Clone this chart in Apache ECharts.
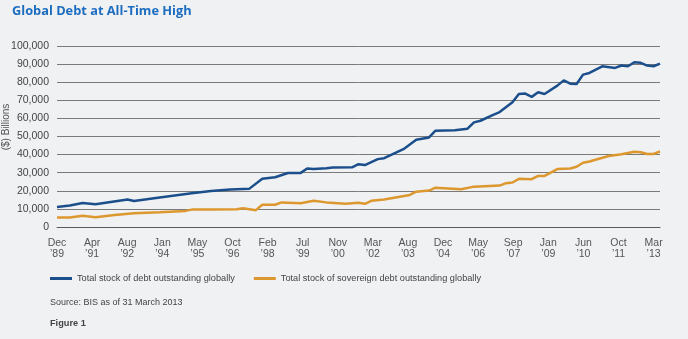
<!DOCTYPE html>
<html>
<head>
<meta charset="utf-8">
<script src="https://cdn.jsdelivr.net/npm/echarts@6/dist/echarts.min.js"></script>
<style>
  html, body { margin: 0; padding: 0; background: #f0f1f3; }
  #chart { width: 688px; height: 339px; }
</style>
</head>
<body>
<div id="chart"></div>
<script>
// Global debt outstanding, $ billions, quarterly readings (BIS)
const debtDates = ['1989-12','1990-06','1990-12','1991-06','1992-09','1992-12','1993-12','1995-03','1995-12',
  '1996-09','1997-06','1997-12','1998-06','1998-12','1999-06','1999-09','1999-12','2000-06','2000-09',
  '2001-06','2001-09','2001-12','2002-06','2002-09','2003-06','2003-12','2004-06','2004-09','2005-06',
  '2005-12','2006-03','2006-06','2006-12','2007-03','2007-09','2007-12','2008-03','2008-06','2008-09',
  '2008-12','2009-06','2009-09','2009-12','2010-03','2010-06','2010-09','2011-03','2011-09','2011-12',
  '2012-03','2012-06','2012-09','2012-12','2013-03','2013-06'];
const debtValues = [11000,11900,13300,12600,15200,14400,16300,18600,19900,
  20700,21200,26600,27500,29800,29900,32300,32000,32500,32900,
  33000,34700,34200,37500,38000,43000,48200,49500,53200,53400,
  54300,57800,58700,62000,63500,68900,73500,73700,71900,74400,
  73500,78100,81000,79200,79000,84200,85100,88800,87900,89200,
  88800,91000,90700,89200,88800,90300];

const sovDates = ['1989-12','1990-06','1990-12','1991-06','1992-03','1992-12','1993-12','1994-12','1995-03',
  '1995-12','1996-12','1997-03','1997-09','1997-12','1998-06','1998-09','1999-06','1999-12','2000-06',
  '2001-03','2001-09','2001-12','2002-03','2002-09','2003-09','2003-12','2004-06','2004-09','2005-09',
  '2006-03','2007-03','2007-06','2007-09','2007-12','2008-06','2008-09','2008-12','2009-06','2009-12',
  '2010-03','2010-06','2010-09','2011-06','2011-12','2012-06','2012-09','2012-12','2013-03','2013-06'];
const sovValues = [5200,5200,6200,5400,6600,7600,8100,8900,9600,
  9700,9800,10300,9300,12300,12300,13600,13100,14500,13600,
  12900,13400,12800,14500,15200,17700,19500,20100,21700,20900,
  22300,22900,24200,24600,26600,26400,28200,28200,32000,32300,
  33300,35500,36200,39200,40200,41600,41300,40300,40400,41700];

const xTickLabels = ['Dec\n\u201989','Apr\n\u201991','Aug\n\u201992','Jan\n\u201994','May\n\u201995','Oct\n\u201996',
  'Feb\n\u201998','Jul\n\u201999','Nov\n\u201900','Mar\n\u201902','Aug\n\u201903','Dec\n\u201904',
  'May\n\u201906','Sep\n\u201907','Jan\n\u201909','Jun\n\u201910','Oct\n\u201911','Mar\n\u201913'];

const seriesNames = ['Total stock of debt outstanding globally', 'Total stock of sovereign debt outstanding globally'];

// months elapsed since Dec 1989
function monthOffset(d) {
  const [y, m] = d.split('-').map(Number);
  return (y - 1989) * 12 + (m - 12);
}
const toPairs = (dates, vals) => dates.map((d, i) => [monthOffset(d), vals[i]]);

const lastLabelMonth = monthOffset('2013-03');
const labelStep = lastLabelMonth / (xTickLabels.length - 1);

const font = "'Liberation Sans', Arial, sans-serif";

const chart = echarts.init(document.getElementById('chart'));
chart.setOption({
  backgroundColor: '#f0f1f3',
  animation: false,
  textStyle: { fontFamily: font },
  title: {
    text: 'Global Debt at All-Time High',
    left: 12, top: 5, padding: 0,
    textStyle: { fontFamily: "'Open Sans', sans-serif", fontWeight: 'bold', fontSize: 12.8, color: '#1c6cc0' }
  },
  grid: { left: 57, right: 28, top: 46, bottom: 112 },
  legend: {
    left: 50, top: 274, padding: 0,
    itemWidth: 22, itemHeight: 3, itemGap: 19,
    icon: 'rect',
    textStyle: { fontFamily: font, fontSize: 9.2, color: '#444' },
    data: seriesNames
  },
  xAxis: {
    type: 'value',
    min: 0, max: monthOffset('2013-06'),
    interval: labelStep,
    splitLine: { show: false },
    axisTick: { show: false },
    axisLine: { show: true, lineStyle: { color: '#5a5a5a', width: 1 } },
    axisLabel: {
      showMaxLabel: false,
      margin: 11,
      lineHeight: 10.5,
      fontSize: 10.5, color: '#555', fontFamily: font,
      formatter: v => xTickLabels[Math.round(v / labelStep)] || ''
    }
  },
  yAxis: {
    type: 'value',
    min: 0, max: 100000, interval: 10000,
    axisLine: { show: false },
    axisTick: { show: false },
    splitLine: { lineStyle: { color: '#7a7a7a', width: 1 } },
    axisLabel: {
      margin: 8, fontSize: 10.5, color: '#444', fontFamily: font,
      formatter: v => v.toLocaleString('en-US')
    }
  },
  graphic: [
    {
      type: 'text',
      x: 6, y: 127, rotation: Math.PI / 2,
      style: { text: '($) Billions', fontFamily: font, fontSize: 10, fill: '#555', align: 'center', verticalAlign: 'middle' }
    },
    {
      type: 'text', x: 50, y: 303,
      style: { text: 'Source: BIS as of 31 March 2013', fontFamily: font, fontSize: 9, fill: '#444', verticalAlign: 'middle' }
    },
    {
      type: 'text', x: 50, y: 323,
      style: { text: 'Figure 1', fontFamily: font, fontSize: 9.2, fontWeight: 'bold', fill: '#444', verticalAlign: 'middle' }
    }
  ],
  series: [
    {
      name: seriesNames[0], type: 'line', showSymbol: false,
      data: toPairs(debtDates, debtValues),
      itemStyle: { color: '#1b4f8c' },
      lineStyle: { color: '#1b4f8c', width: 2.5 }
    },
    {
      name: seriesNames[1], type: 'line', showSymbol: false,
      data: toPairs(sovDates, sovValues),
      itemStyle: { color: '#dc982f' },
      lineStyle: { color: '#dc982f', width: 2.5 }
    }
  ]
});
</script>
</body>
</html>
